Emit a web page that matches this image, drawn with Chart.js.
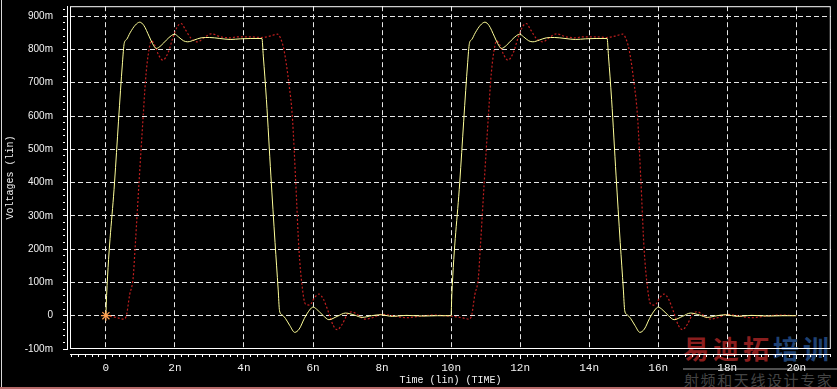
<!DOCTYPE html>
<html>
<head>
<meta charset="utf-8">
<script src="https://cdn.jsdelivr.net/npm/chart.js@4/dist/chart.umd.min.js"></script>
<style>
  html, body { margin: 0; padding: 0; background: #000; overflow: hidden; }
  #wrap { position: relative; width: 837px; height: 389px; }
  #chart { position: absolute; left: 0; top: 0; z-index: 2; }
  .mark { position: absolute; z-index: 1; font-family: 'Noto Sans CJK SC', sans-serif; white-space: nowrap; line-height: 1; }
  #mark-big { left: 683px; top: 335px; font-size: 26px; font-weight: bold; letter-spacing: 4px; }
  #mark-line { position: absolute; z-index: 1; left: 683px; top: 368px; width: 154px; height: 2px; background: #505050; }
  #mark-small { left: 684px; top: 372px; font-size: 15px; letter-spacing: 1.6px; color: #444; }
  #edge-left { position: absolute; z-index: 3; left: 1px; top: 0; width: 1px; height: 387px; background: #d8d8d8; }
  #edge-bottom { position: absolute; z-index: 3; left: 0; top: 387px; width: 837px; height: 2px; background: #b86a6a; }
</style>
</head>
<body>
<div id="wrap">
  <div class="mark" id="mark-big"><span style="color:#8a1e1e">易迪拓</span><span style="color:#1f4274">培训</span></div>
  <div id="mark-line"></div>
  <div class="mark" id="mark-small">射频和天线设计专家</div>
  <canvas id="chart" width="837" height="389"></canvas>
  <div id="edge-left"></div>
  <div id="edge-bottom"></div>
</div>
<script>
// DATA (time in ns, voltage in mV) //
const yellowTime = [
  0, 0.02, 0.25, 0.48, 0.53, 0.6, 0.7, 0.85, 0.98, 1.1, 1.25, 1.35, 1.46, 1.6, 1.75, 1.9, 1.99, 2.1, 2.25, 2.37,
  2.55, 2.76, 3.0, 3.3, 3.6, 3.9, 4.2, 4.52, 4.56, 4.65, 4.78, 4.9, 4.99, 5.03, 5.1, 5.2, 5.33, 5.47, 5.6, 5.75,
  5.9, 6.0, 6.1, 6.3, 6.46, 6.7, 6.94, 7.2, 7.42, 7.7, 7.95, 8.3, 8.7, 9.2, 9.6, 9.98,
  10.0, 10.02, 10.25, 10.48, 10.53, 10.6, 10.7, 10.85, 10.98, 11.1, 11.25, 11.35, 11.46, 11.6, 11.75, 11.9, 11.99, 12.1, 12.25, 12.37,
  12.55, 12.76, 13.0, 13.3, 13.6, 13.9, 14.2, 14.52, 14.56, 14.65, 14.78, 14.9, 14.99, 15.03, 15.1, 15.2, 15.33, 15.47, 15.6, 15.75,
  15.9, 16.0, 16.1, 16.3, 16.46, 16.7, 16.94, 17.2, 17.42, 17.7, 17.95, 18.3, 18.7, 19.2, 19.6, 20.0
]
const yellowVolt = [
  0, 60, 400, 760, 818, 830, 850, 873, 882, 872, 840, 818, 803, 812, 828, 842, 846, 838, 826, 823,
  828, 835, 836, 833, 830, 832, 833, 833, 780, 650, 420, 220, 80, 15, 3, -8, -30, -50, -40, -8,
  17, 26, 20, 0, -12, -2, 8, 2, -5, 0, 3, -2, 1, -1, 0, 0,
  0, 60, 400, 760, 818, 830, 850, 873, 882, 872, 840, 818, 803, 812, 828, 842, 846, 838, 826, 823,
  828, 835, 836, 833, 830, 832, 833, 833, 780, 650, 420, 220, 80, 15, 3, -8, -30, -50, -40, -8,
  17, 26, 20, 0, -12, -2, 8, 2, -5, 0, 3, -2, 1, -1, 0, 0
]
const redTime = [
  0, 0.2, 0.4, 0.5, 0.58, 0.69, 0.79, 0.84, 0.96, 1.08, 1.15, 1.22, 1.32, 1.42, 1.52, 1.65, 1.8, 1.95, 2.08, 2.18,
  2.3, 2.47, 2.66, 2.85, 3.05, 3.33, 3.6, 3.81, 4.2, 4.5, 4.75, 4.97, 5.05, 5.16, 5.3, 5.4, 5.5, 5.59, 5.69, 5.78,
  5.9, 6.05, 6.17, 6.3, 6.45, 6.58, 6.7, 6.85, 7.0, 7.13, 7.3, 7.51, 7.75, 8.0, 8.3, 8.7, 9.0, 9.5, 9.8,
  10.2, 10.4, 10.5, 10.58, 10.69, 10.79, 10.84, 10.96, 11.08, 11.15, 11.22, 11.32, 11.42, 11.52, 11.65, 11.8, 11.95, 12.08, 12.18,
  12.3, 12.47, 12.66, 12.85, 13.05, 13.33, 13.6, 13.81, 14.2, 14.5, 14.75, 14.97, 15.05, 15.16, 15.3, 15.4, 15.5, 15.59, 15.69, 15.78,
  15.9, 16.05, 16.17, 16.3, 16.45, 16.58, 16.7, 16.85, 17.0, 17.13, 17.3, 17.51, 17.75, 18.0, 18.3, 18.7, 19.0, 19.5, 20.0
]
const redVolt = [
  0, -3, -8, -10, -4, 64, 114, 193, 401, 600, 710, 780, 826, 812, 785, 768, 790, 838, 870, 878,
  860, 833, 823, 836, 847, 838, 835, 838, 838, 836, 840, 846, 836, 798, 699, 600, 401, 203, 84, 35,
  32, 55, 65, 50, 10, -28, -42, -25, 5, 12, 2, -10, -5, 4, 0, -6, -3, 2, 0,
  -4, -8, -10, -4, 64, 114, 193, 401, 600, 710, 780, 826, 812, 785, 768, 790, 838, 870, 878,
  860, 833, 823, 836, 847, 838, 835, 838, 838, 836, 840, 846, 836, 798, 699, 600, 401, 203, 84, 35,
  32, 55, 65, 50, 10, -28, -42, -25, 5, 12, 2, -10, -5, 4, 0, -6, -3, 2, 0
]
const markerTime = [0]
const markerVolt = [0]

// AXES //
const xMin = -1.04
const xMax = 21.0
const yMin = -100
const yMax = 930
const xTickValues = [0, 2, 4, 6, 8, 10, 12, 14, 16, 18, 20]
const xTickLabels = ['0', '2n', '4n', '6n', '8n', '10n', '12n', '14n', '16n', '18n', '20n']
const yTickValues = [-100, 0, 100, 200, 300, 400, 500, 600, 700, 800, 900]
const yTickLabels = ['-100m', '0', '100m', '200m', '300m', '400m', '500m', '600m', '700m', '800m', '900m']

// minor tick positions every 0.2n and 20m
const xMinorTicks = []
for (let i = -5; i <= 105; i++) xMinorTicks.push(i / 5)
const yMinorTicks = []
for (let v = -100; v <= 920; v += 20) yMinorTicks.push(v)

const findIndex = (list, value) => list.findIndex(v => Math.abs(v - value) < 1e-6)
const toPoints = (xs, ys) => xs.map((x, i) => ({ x: x, y: ys[i] }))

const gridColor = '#e6e6e6'
const labelColor = '#f2f2f2'

// keep the axes from pushing the plot area in for label overflow
function fixHeight(h) {
  return s => { s.height = h; s.paddingLeft = 0; s.paddingRight = 0; s.paddingTop = 0; s.paddingBottom = 0 }
}
function fixWidth(w) {
  return s => { s.width = w; s.paddingLeft = 0; s.paddingRight = 0; s.paddingTop = 0; s.paddingBottom = 0 }
}

// chart area frame
const plotFrame = {
  id: 'plotFrame',
  beforeDatasetsDraw(chart) {
    const { ctx, chartArea } = chart
    ctx.save()
    ctx.strokeStyle = '#ffffff'
    ctx.lineWidth = 1
    ctx.strokeRect(chartArea.left + 0.5, chartArea.top + 0.5, chartArea.right - chartArea.left - 1, chartArea.bottom - chartArea.top - 1)
    ctx.restore()
  }
}

new Chart(document.getElementById('chart'), {
  type: 'line',
  data: {
    datasets: [
      {
        label: 'out',
        data: toPoints(redTime, redVolt),
        borderColor: '#c21f1f',
        borderWidth: 1.2,
        borderDash: [2, 2],
        pointRadius: 0,
        cubicInterpolationMode: 'monotone',
        order: 2
      },
      {
        label: 'in',
        data: toPoints(yellowTime, yellowVolt),
        borderColor: '#ffff99',
        borderWidth: 1,
        pointRadius: 0,
        cubicInterpolationMode: 'monotone',
        order: 1
      },
      {
        label: 'cursor',
        data: toPoints(markerTime, markerVolt),
        showLine: false,
        pointStyle: 'star',
        pointRadius: 5,
        borderColor: '#ffa050',
        borderWidth: 1.2,
        order: 0
      }
    ]
  },
  options: {
    responsive: false,
    animation: false,
    events: [],
    layout: { padding: { top: 2, right: 2, left: 0, bottom: 0 } },
    plugins: {
      legend: { display: false },
      tooltip: { enabled: false }
    },
    scales: {
      x: {
        type: 'linear', min: xMin, max: xMax, position: 'bottom', weight: 0,
        afterBuildTicks: s => { s.ticks = xTickValues.map(v => ({ value: v })) },
        afterFit: fixHeight(5),
        ticks: { display: false },
        grid: { color: gridColor, lineWidth: 1, drawTicks: false },
        border: { display: false, dash: [5, 3] }
      },
      xAxis: {
        type: 'linear', min: xMin, max: xMax, position: 'bottom', weight: 1,
        afterBuildTicks: s => { s.ticks = xMinorTicks.map(v => ({ value: v })) },
        afterFit: fixHeight(35),
        grid: {
          drawOnChartArea: false,
          drawTicks: true,
          tickLength: 5,
          tickColor: '#ffffff',
          tickWidth: 1,
          tickBorderDash: c => (c.tick && findIndex(xTickValues, c.tick.value) >= 0) ? [] : [2, 10]
        },
        border: { display: true, color: '#ffffff', width: 1 },
        ticks: {
          autoSkip: false,
          maxRotation: 0,
          color: labelColor,
          padding: 2,
          font: { family: 'Liberation Mono', size: 11 },
          callback: value => {
            const i = findIndex(xTickValues, value)
            return i >= 0 ? xTickLabels[i] : ''
          }
        },
        title: {
          display: true,
          text: 'Time (lin) (TIME)',
          color: labelColor,
          font: { family: 'Liberation Mono', size: 10 },
          padding: { top: 0, bottom: 3 }
        }
      },
      y: {
        type: 'linear', min: yMin, max: yMax, position: 'left', weight: 0,
        afterBuildTicks: s => { s.ticks = yTickValues.filter(v => v > yMin).map(v => ({ value: v })) },
        afterFit: fixWidth(3),
        ticks: { display: false },
        grid: { color: gridColor, lineWidth: 1, drawTicks: false },
        border: { display: false, dash: [5, 3] }
      },
      yAxis: {
        type: 'linear', min: yMin, max: yMax, position: 'left', weight: 1,
        afterBuildTicks: s => { s.ticks = yMinorTicks.map(v => ({ value: v })) },
        afterFit: fixWidth(67),
        grid: {
          drawOnChartArea: false,
          drawTicks: true,
          tickLength: 4,
          tickColor: '#ffffff',
          tickWidth: 1,
          tickBorderDash: c => (c.tick && findIndex(yTickValues, c.tick.value) >= 0) ? [] : [2, 10]
        },
        border: { display: true, color: '#ffffff', width: 1 },
        ticks: {
          autoSkip: false,
          color: labelColor,
          padding: 10,
          font: { family: 'Liberation Sans', size: 10 },
          callback: value => {
            const i = findIndex(yTickValues, value)
            return i >= 0 ? yTickLabels[i] : ''
          }
        },
        title: {
          display: true,
          text: 'Voltages (lin)',
          color: labelColor,
          font: { family: 'Liberation Mono', size: 10 },
          padding: { top: 4, bottom: 0 }
        }
      }
    }
  },
  plugins: [plotFrame]
})
</script>
</body>
</html>
